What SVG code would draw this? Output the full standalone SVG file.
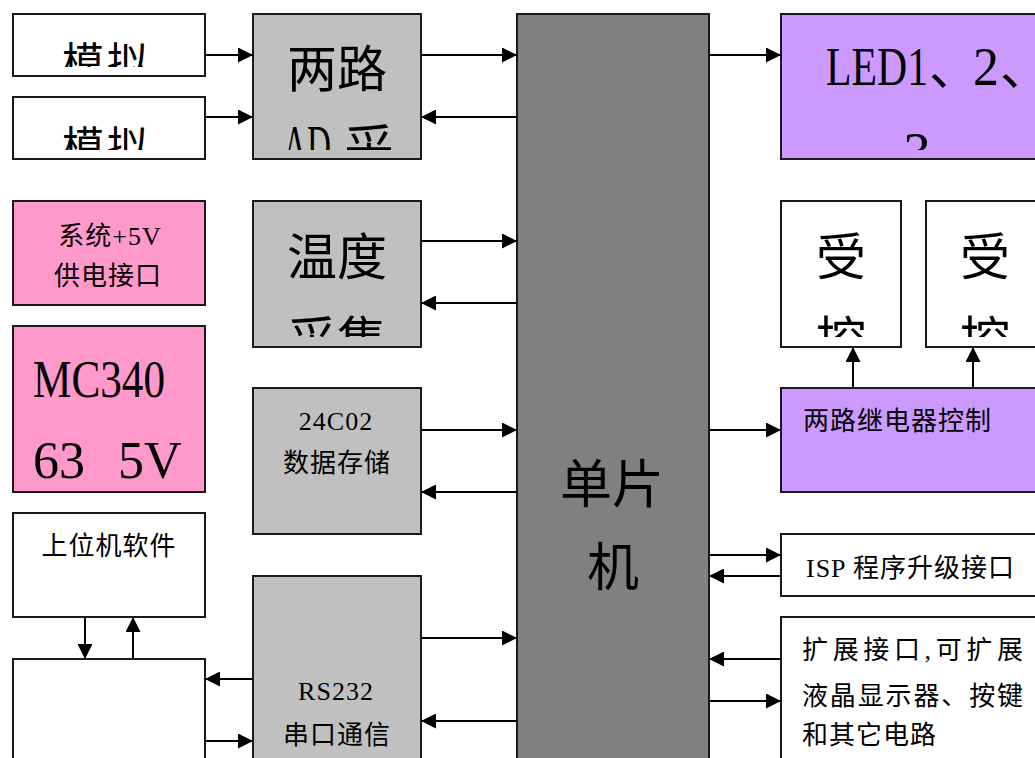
<svg xmlns="http://www.w3.org/2000/svg" width="1035" height="758" viewBox="0 0 1035 758">
<style>
.box{stroke:#1a1a1a;stroke-width:2}
.w{fill:#ffffff}
.g{fill:#c0c0c0}
.m{fill:#808080}
.p{fill:#ff99cc}
.v{fill:#cc99ff}
text{font-family:'Liberation Serif','Noto Sans CJK SC',serif;fill:#000}
.s{font-size:26px;letter-spacing:1px}
.b{font-size:50px}
.c{text-anchor:middle}
.conn line{stroke:#000;stroke-width:2;marker-end:url(#ah)}
</style>
<defs>
<marker id="ah" markerUnits="userSpaceOnUse" markerWidth="15" markerHeight="15" refX="15" refY="7.5" orient="auto">
<path d="M0,0 L15,7.5 L0,15 z" fill="#000"/>
</marker>
<clipPath id="c1"><rect x="13" y="14" width="192" height="53"/></clipPath>
<clipPath id="c2"><rect x="13" y="97" width="192" height="53"/></clipPath>
<clipPath id="c3"><rect x="253" y="14" width="168" height="136"/></clipPath>
<clipPath id="c4"><rect x="253" y="201" width="168" height="136"/></clipPath>
<clipPath id="c5"><rect x="781" y="14" width="300" height="136"/></clipPath>
<clipPath id="c6"><rect x="781" y="201" width="120" height="136"/></clipPath>
<clipPath id="c7"><rect x="926" y="201" width="120" height="136"/></clipPath>
</defs>
<rect width="1035" height="758" fill="#ffffff"/>

<g id="sim1">
<rect class="box w" x="13" y="14" width="192" height="62"/>
<text class="c" x="107" y="78" font-size="42" letter-spacing="3" clip-path="url(#c1)">模拟</text>
</g>
<g id="sim2">
<rect class="box w" x="13" y="97" width="192" height="62"/>
<text class="c" x="107" y="162" font-size="42" letter-spacing="3" clip-path="url(#c2)">模拟</text>
</g>
<g id="power">
<rect class="box p" x="13" y="201" width="192" height="104"/>
<text class="s c" x="110" y="245">系统+5V</text>
<text class="s c" x="108" y="285">供电接口</text>
</g>
<g id="mc34063">
<rect class="box p" x="13" y="326" width="192" height="166"/>
<text x="33" y="397" font-size="52" textLength="132" lengthAdjust="spacingAndGlyphs">MC340</text>
<text x="33" y="478" font-size="52"><tspan>63</tspan><tspan x="118">5V</tspan></text>
</g>
<g id="pc">
<rect class="box w" x="13" y="513" width="192" height="104"/>
<text class="s c" x="109" y="555">上位机软件</text>
</g>
<g id="lowerbox">
<rect class="box w" x="13" y="659" width="192" height="120"/>
</g>
<g id="ad">
<rect class="box g" x="253" y="14" width="168" height="145"/>
<g clip-path="url(#c3)">
<text class="b c" x="337" y="87">两路</text>
<text class="b" x="283" y="166"><tspan font-size="60" textLength="48" lengthAdjust="spacingAndGlyphs">AD</tspan><tspan x="344">采</tspan></text>
</g>
</g>
<g id="temp">
<rect class="box g" x="253" y="201" width="168" height="146"/>
<g clip-path="url(#c4)">
<text class="b c" x="337" y="275">温度</text>
<text class="b c" x="337" y="358">采集</text>
</g>
</g>
<g id="eeprom">
<rect class="box g" x="253" y="388" width="168" height="146"/>
<text class="s c" x="336" y="430">24C02</text>
<text class="s c" x="337" y="472">数据存储</text>
</g>
<g id="rs232">
<rect class="box g" x="253" y="576" width="168" height="200"/>
<text class="s c" x="336" y="700">RS232</text>
<text class="s c" x="337" y="744">串口通信</text>
</g>
<g id="mcu">
<rect class="box m" x="517" y="14" width="192" height="770"/>
<text class="c" x="612" y="503" font-size="52">单片</text>
<text class="c" x="613" y="586" font-size="52">机</text>
</g>
<g id="led">
<rect class="box v" x="781" y="14" width="280" height="145"/>
<g clip-path="url(#c5)">
<text x="826" y="85" font-size="50"><tspan font-size="55" textLength="102" lengthAdjust="spacingAndGlyphs">LED1</tspan><tspan x="929">、</tspan><tspan x="973" font-size="55" textLength="26" lengthAdjust="spacingAndGlyphs">2</tspan><tspan x="1000">、</tspan></text>
<text class="c" x="917" y="170" font-size="55">3</text>
</g>
</g>
<g id="load1">
<rect class="box w" x="781" y="201" width="120" height="146"/>
<g clip-path="url(#c6)">
<text class="b c" x="841" y="275">受</text>
<text class="b c" x="841" y="358">控</text>
</g>
</g>
<g id="load2">
<rect class="box w" x="926" y="201" width="120" height="146"/>
<g clip-path="url(#c7)">
<text class="b c" x="985" y="275">受</text>
<text class="b c" x="985" y="358">控</text>
</g>
</g>
<g id="relay">
<rect class="box v" x="781" y="388" width="280" height="104"/>
<text class="s" x="803" y="430" letter-spacing="1.5">两路继电器控制</text>
</g>
<g id="isp">
<rect class="box w" x="781" y="534" width="280" height="62"/>
<text class="s" x="806" y="577">ISP 程序升级接口</text>
</g>
<g id="ext">
<rect class="box w" x="781" y="617" width="280" height="180"/>
<text class="s" x="802" y="659" textLength="222" lengthAdjust="spacing">扩展接口,可扩展</text>
<text class="s" x="802" y="705" textLength="222" lengthAdjust="spacing">液晶显示器、按键</text>
<text class="s" x="802" y="744" letter-spacing="1.6">和其它电路</text>
</g>

<g id="connectors" class="conn">
<line x1="205" y1="55" x2="253" y2="55"/>
<line x1="205" y1="117" x2="253" y2="117"/>
<line x1="421" y1="55" x2="517" y2="55"/>
<line x1="517" y1="117" x2="421" y2="117"/>
<line x1="421" y1="241" x2="517" y2="241"/>
<line x1="517" y1="303" x2="421" y2="303"/>
<line x1="421" y1="430" x2="517" y2="430"/>
<line x1="517" y1="492" x2="421" y2="492"/>
<line x1="421" y1="638" x2="517" y2="638"/>
<line x1="517" y1="721" x2="421" y2="721"/>
<line x1="253" y1="679" x2="205" y2="679"/>
<line x1="205" y1="741" x2="253" y2="741"/>
<line x1="85" y1="617" x2="85" y2="659"/>
<line x1="133" y1="659" x2="133" y2="617"/>
<line x1="709" y1="55" x2="781" y2="55"/>
<line x1="709" y1="430" x2="781" y2="430"/>
<line x1="853" y1="388" x2="853" y2="347"/>
<line x1="973" y1="388" x2="973" y2="347"/>
<line x1="709" y1="555" x2="781" y2="555"/>
<line x1="781" y1="576" x2="709" y2="576"/>
<line x1="781" y1="659" x2="709" y2="659"/>
<line x1="709" y1="701" x2="781" y2="701"/>
</g>
</svg>
